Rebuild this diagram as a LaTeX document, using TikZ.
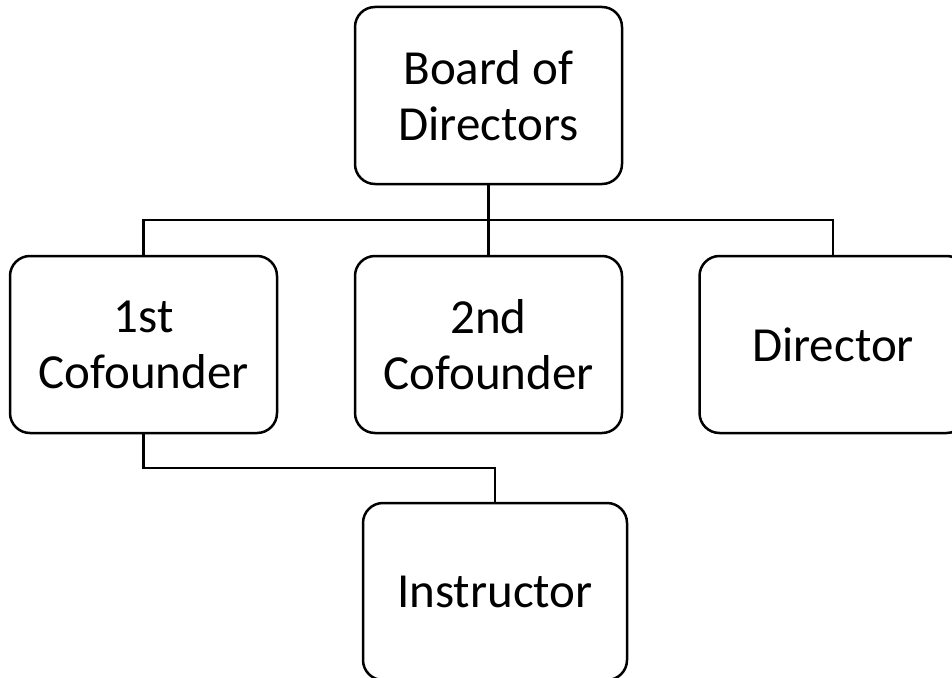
\documentclass[tikz,border=0pt]{standalone}
\usepackage{fontspec}
\setmainfont{Carlito}
\begin{document}
\begin{tikzpicture}[x=1pt,y=-1pt,
  orgbox/.style={draw=black, line width=2.5pt, rounded corners=20pt, fill=white,
    minimum width=267pt, minimum height=177pt, align=center,
    font=\fontsize{49}{56}\selectfont, inner sep=0pt},
  link/.style={draw=black, line width=2.5pt}]
\useasboundingbox (0,0) rectangle (952,677);
\begin{scope}
\clip (0,0) rectangle (952,677);
\node[orgbox] (board) at (488.5,95.5) {Board of\\Directors};
\node[orgbox] (c1) at (143.5,344.5) {1st\\Cofounder};
\node[orgbox] (c2) at (488.5,344.5) {2nd\\Cofounder};
\node[orgbox] (dir) at (833,344.5) {Director};
\node[orgbox, minimum width=264pt] (ins) at (495,591.5) {Instructor};
\coordinate (j1) at (488.5,220);
\coordinate (j2) at (319,468);
\draw[link] (board.south) -- (j1) -- (c2.north);
\draw[link] (c1.north) |- (j1) -| (dir.north);
\draw[link] (c1.south) |- (j2) -| (ins.north);
\end{scope}
\end{tikzpicture}
\end{document}
